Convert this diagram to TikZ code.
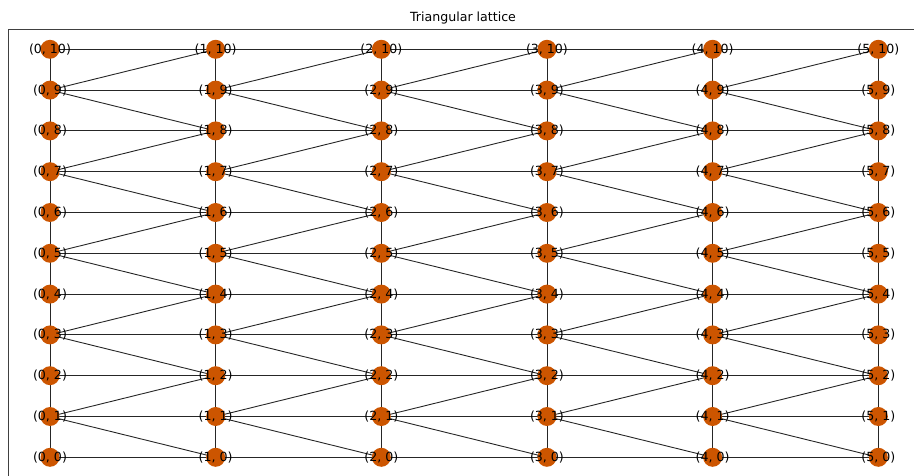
\documentclass[tikz,border=0pt]{standalone}
\usepackage{fontspec}
\setmainfont{DejaVu Sans}
\definecolor{nodefill}{RGB}{204,85,0}
\tikzset{
  vert/.style={circle, fill=nodefill, inner sep=0pt, minimum size=19pt},
  lbl/.style={font=\fontsize{12.6}{15}\selectfont, text=black, inner sep=0pt},
  edge/.style={draw=black!85, line width=0.9pt},
  frame/.style={draw=black!75, line width=0.9pt},
}
\begin{document}
\begin{tikzpicture}[x=1pt,y=-1pt]
  \useasboundingbox (0,0) rectangle (914,476);
  % axes frame (right and bottom sides fall outside the page)
  \draw[frame] (8.5,480) -- (8.5,29) -- (920,29);
  \node[lbl] (title) at (463,18) {Triangular lattice};
  % lattice vertices
  \foreach \i in {0,...,5} {
    \foreach \j in {0,...,10} {
      \coordinate (c-\i-\j) at ({50+165.66*\i},{457.3-40.8*\j});
    }
  }
  % horizontal edges
  \foreach \i [evaluate=\i as \k using int(\i+1)] in {0,...,4} {
    \foreach \j in {0,...,10} {
      \draw[edge] (c-\i-\j) -- (c-\k-\j);
    }
  }
  % vertical edges
  \foreach \i in {0,...,5} {
    \foreach \j [evaluate=\j as \m using int(\j+1)] in {0,...,9} {
      \draw[edge] (c-\i-\j) -- (c-\i-\m);
    }
  }
  % diagonal edges from odd rows
  \foreach \i [evaluate=\i as \k using int(\i+1)] in {0,...,4} {
    \foreach \j [evaluate=\j as \u using int(\j+1), evaluate=\j as \d using int(\j-1)] in {1,3,5,7,9} {
      \draw[edge] (c-\i-\j) -- (c-\k-\u);
      \draw[edge] (c-\i-\j) -- (c-\k-\d);
    }
  }
  % vertex discs and labels
  \foreach \i in {0,...,5} {
    \foreach \j in {0,...,10} {
      \node[vert] (n-\i-\j) at (c-\i-\j) {};
      \node[lbl] (t-\i-\j) at (c-\i-\j) {(\i, \j)};
    }
  }
\end{tikzpicture}
\end{document}
